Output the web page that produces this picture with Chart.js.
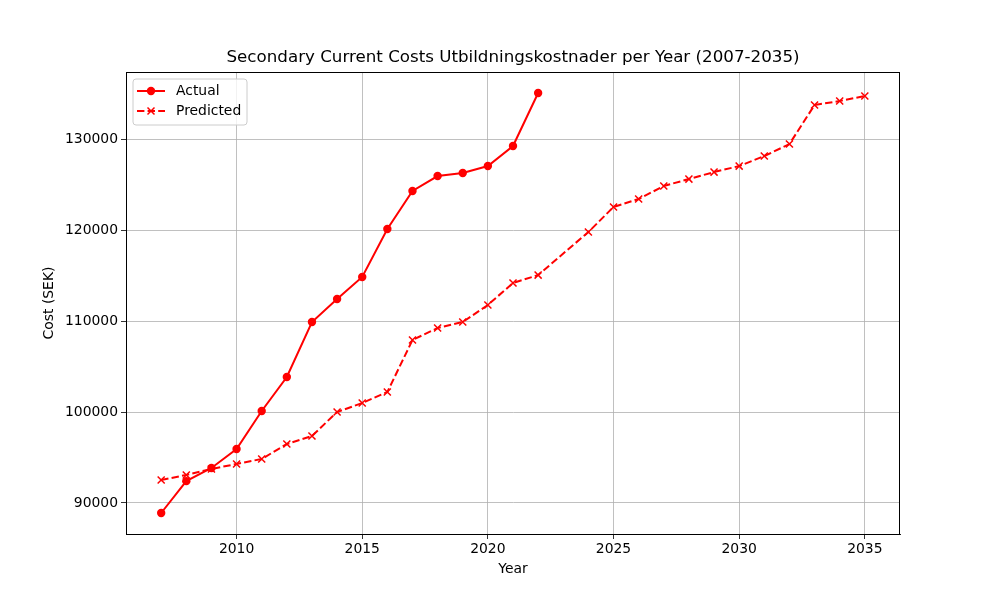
<!DOCTYPE html>
<html>
<head>
<meta charset="utf-8">
<script src="https://cdn.jsdelivr.net/npm/chart.js@4.4.0/dist/chart.umd.min.js"></script>
<style>
  body { margin: 0; background: #fff; }
  #wrap { width: 1000px; height: 600px; }
</style>
</head>
<body>
<div id="wrap"><canvas id="costChart" width="1000" height="600"></canvas></div>
<script>
// --- Data ---
const actualYears = [2007, 2008, 2009, 2010, 2011, 2012, 2013, 2014, 2015, 2016, 2017, 2018, 2019, 2020, 2021, 2022];
const actualCosts = [88900, 92400, 93850, 95930, 100110, 103850, 109890, 112420, 114840, 120110, 124290, 125930, 126260, 127030, 129230, 135060];

const predictedYears = [2007, 2008, 2009, 2010, 2011, 2012, 2013, 2014, 2015, 2016, 2017, 2018, 2019, 2020, 2021, 2022,
                        2024, 2025, 2026, 2027, 2028, 2029, 2030, 2031, 2032, 2033, 2034, 2035];
const predictedCosts = [92530, 93080, 93740, 94290, 94840, 96480, 97360, 100000, 100990, 102200, 107910, 109230, 109890, 111760, 114180, 115050,
                        119780, 122530, 123410, 124840, 125600, 126370, 127030, 128130, 129450, 133740, 134180, 134730];

const xTicks = [2010, 2015, 2020, 2025, 2030, 2035];
const yTicks = [90000, 100000, 110000, 120000, 130000];

const titleText = 'Secondary Current Costs Utbildningskostnader per Year (2007-2035)';
const xTitle = 'Year';
const yTitle = 'Cost (SEK)';

const FONT = 'DejaVu Sans';
const RED = '#ff0000';
const TICK_SIZE = 13.9;

function toPoints(xs, ys) {
    return xs.map((x, i) => ({ x: x, y: ys[i] }));
}

// spines, titles and legend box (matplotlib-like placement)
const framePlugin = {
    id: 'frame',
    afterDraw(chart) {
        const { ctx, chartArea: a } = chart;
        const cx = (a.left + a.right) / 2, cy = (a.top + a.bottom) / 2;
        ctx.save();
        ctx.strokeStyle = '#000';
        ctx.lineWidth = 1;
        ctx.strokeRect(a.left + 0.5, a.top + 0.5, a.right - a.left - 1, a.bottom - a.top);

        // titles
        ctx.fillStyle = '#000';
        ctx.textAlign = 'center';
        ctx.textBaseline = 'middle';
        ctx.font = '16.7px ' + FONT;
        ctx.fillText(titleText, cx, a.top - 14);
        ctx.font = TICK_SIZE + 'px ' + FONT;
        ctx.fillText(xTitle, cx, a.bottom + 35);
        ctx.save();
        ctx.translate(a.left - 77, cy);
        ctx.rotate(-Math.PI / 2);
        ctx.fillText(yTitle, 0, 0);
        ctx.restore();

        // legend
        const lx = a.left + 7, ly = a.top + 7, lw = 114, lh = 46;
        ctx.fillStyle = 'rgba(255,255,255,0.8)';
        ctx.strokeStyle = '#cccccc';
        ctx.beginPath();
        ctx.roundRect(lx, ly, lw, lh, 3);
        ctx.fill();
        ctx.stroke();

        ctx.textAlign = 'left';
        chart.data.datasets.forEach((ds, i) => {
            const y = ly + 12 + i * 20;
            ctx.strokeStyle = RED;
            ctx.lineWidth = 2;
            ctx.setLineDash(ds.borderDash || []);
            ctx.beginPath();
            ctx.moveTo(lx + 4, y);
            ctx.lineTo(lx + 32, y);
            ctx.stroke();
            ctx.setLineDash([]);
            const mx = lx + 18;
            if (ds.pointStyle === 'circle') {
                ctx.fillStyle = RED;
                ctx.beginPath();
                ctx.arc(mx, y, 4.2, 0, Math.PI * 2);
                ctx.fill();
            } else {
                ctx.lineWidth = 1.5;
                ctx.beginPath();
                ctx.moveTo(mx - 3.5, y - 3.5); ctx.lineTo(mx + 3.5, y + 3.5);
                ctx.moveTo(mx + 3.5, y - 3.5); ctx.lineTo(mx - 3.5, y + 3.5);
                ctx.stroke();
            }
            ctx.fillStyle = '#000';
            ctx.fillText(ds.label, lx + 43, y);
        });
        ctx.restore();
    }
};

const ctx = document.getElementById('costChart').getContext('2d');
new Chart(ctx, {
    type: 'line',
    data: {
        datasets: [{
            label: 'Actual',
            data: toPoints(actualYears, actualCosts),
            borderColor: RED,
            backgroundColor: RED,
            borderWidth: 2,
            pointStyle: 'circle',
            pointRadius: 4.2,
            pointBorderWidth: 0,
            tension: 0
        }, {
            label: 'Predicted',
            data: toPoints(predictedYears, predictedCosts),
            borderColor: RED,
            backgroundColor: RED,
            borderWidth: 2,
            borderDash: [7.4, 3.2],
            pointStyle: 'crossRot',
            pointRadius: 5,
            pointBorderWidth: 1.5,
            tension: 0
        }]
    },
    options: {
        responsive: false,
        animation: false,
        layout: { padding: { left: 0, right: 100, top: 72, bottom: 0 } },
        plugins: {
            legend: { display: false },
            tooltip: { enabled: false },
            title: { display: false }
        },
        scales: {
            x: {
                type: 'linear',
                min: 2005.6,
                max: 2036.4,
                afterBuildTicks: s => { s.ticks = xTicks.map(v => ({ value: v })); },
                afterFit: s => { s.height = 66; },
                ticks: {
                    color: '#000',
                    font: { family: FONT, size: TICK_SIZE },
                    padding: 2,
                    maxRotation: 0,
                    callback: v => String(v)
                },
                grid: { color: '#b0b0b0', lineWidth: 0.8, tickColor: '#000', tickLength: 5 },
                border: { color: '#000', width: 1 }
            },
            y: {
                type: 'linear',
                min: 86592,
                max: 137368,
                afterBuildTicks: s => { s.ticks = yTicks.map(v => ({ value: v })); },
                afterFit: s => { s.width = 126; },
                ticks: {
                    color: '#000',
                    font: { family: FONT, size: TICK_SIZE },
                    padding: 3,
                    callback: v => String(v)
                },
                grid: { color: '#b0b0b0', lineWidth: 0.8, tickColor: '#000', tickLength: 5 },
                border: { color: '#000', width: 1 }
            }
        }
    },
    plugins: [framePlugin]
});
</script>
</body>
</html>
